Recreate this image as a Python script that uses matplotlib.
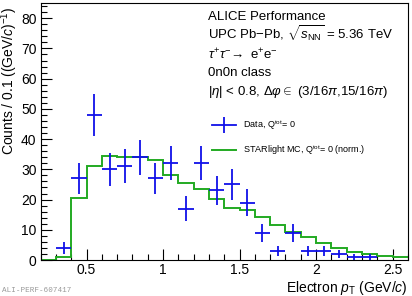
import numpy as np
import matplotlib
matplotlib.use("Agg")
import matplotlib.pyplot as plt
from matplotlib.ticker import MultipleLocator
from matplotlib.lines import Line2D

plt.rcParams['font.family'] = ['Liberation Sans', 'DejaVu Sans']
plt.rcParams['mathtext.fontset'] = 'custom'
plt.rcParams['mathtext.rm'] = 'Liberation Sans'
plt.rcParams['mathtext.it'] = 'Liberation Sans:italic'
plt.rcParams['mathtext.bf'] = 'Liberation Sans:bold'

# data points (bin centres, counts)
data_pt = [0.35, 0.45, 0.55, 0.65, 0.75, 0.85, 0.95, 1.05, 1.15, 1.25, 1.35,
           1.45, 1.55, 1.65, 1.75, 1.85, 1.95, 2.05, 2.15, 2.25, 2.35]
data_counts = [4, 27, 48, 30, 31, 34, 27, 32, 17, 32, 23,
               25, 19, 9, 3, 9, 3, 3, 2, 1, 1]

# STARlight MC histogram (normalised)
mc_edges = [0.2, 0.3, 0.4, 0.5, 0.6, 0.7, 0.8, 0.9, 1.0, 1.1, 1.2, 1.3, 1.4,
            1.5, 1.6, 1.7, 1.8, 1.9, 2.0, 2.1, 2.2, 2.3, 2.4, 2.5, 2.6]
mc_counts = [0, 1.1, 20.4, 31.1, 34.3, 34.2, 34.0, 33.0, 28.1, 25.4, 23.4, 20.3,
             17.2, 16.4, 14.1, 11.6, 9.4, 7.5, 5.7, 3.9, 2.8, 2.0, 1.4, 0.9]

blue = '#1010e8'
green = '#22aa22'

fig = plt.figure(figsize=(4.12, 2.96), dpi=100)
ax = fig.add_axes([0.0988, 0.1216, 0.891, 0.868])

ax.stairs(mc_counts, mc_edges, color=green, linewidth=1.4, baseline=None, zorder=2)
yerr = np.sqrt(np.array(data_counts, dtype=float))
ax.errorbar(data_pt, data_counts, xerr=0.05, yerr=yerr, fmt='none',
            ecolor=blue, elinewidth=1.3, capsize=0, zorder=3)

ax.set_xlim(0.2, 2.6)
ax.set_ylim(0, 85)
ax.xaxis.set_major_locator(MultipleLocator(0.5))
ax.xaxis.set_minor_locator(MultipleLocator(0.1))
ax.yaxis.set_major_locator(MultipleLocator(10))
ax.yaxis.set_minor_locator(MultipleLocator(2))
ax.tick_params(which='both', direction='in', top=False, right=False,
               labelsize=10, width=0.8)
ax.tick_params(which='major', length=8, pad=3)
ax.tick_params(which='minor', length=4)
ax.tick_params(axis='x', which='major', pad=2)
ax.set_xticks([0.5, 1, 1.5, 2, 2.5])
ax.set_xticklabels(['0.5', '1', '1.5', '2', '2.5'])
for s in ax.spines.values():
    s.set_linewidth(0.8)

ax.set_ylabel(r'Counts / 0.1 ((GeV/$c$)$^{-1}$)', fontsize=10, loc='top')
ax.yaxis.set_label_coords(-0.056, 0.985)
ax.set_xlabel(r'Electron $p_{\rm T}$ (GeV/$c$)', fontsize=10, loc='right')
ax.xaxis.set_label_coords(1.0, -0.074)

lines = ['ALICE Performance',
         r'UPC Pb$-$Pb, $\sqrt{s_{\rm NN}}$ = 5.36 TeV',
         r'$\tau^{+}\tau^{-}\!\rightarrow$ e$^{+}$e$^{-}$',
         '0n0n class',
         r'$|\eta|$ < 0.8, $\Delta\varphi\in$ (3/16$\pi$,15/16$\pi$)']
ys = [17, 34, 55, 73, 92]
for txt, yp in zip(lines, ys):
    fig.text(208 / 412, 1 - yp / 296, txt, fontsize=9.5, va='center', ha='left')

h_data = Line2D([], [], color=blue, linewidth=1.3, marker='|',
                markersize=11, markeredgewidth=1.3)
h_mc = Line2D([], [], color=green, linewidth=1.4)
ax.legend([h_data, h_mc],
          [r'Data, Q$^{\rm tot}$= 0', r'STARlight MC, Q$^{\rm tot}$= 0 (norm.)'],
          loc='upper left', bbox_to_anchor=(0.466, 0.55), frameon=False,
          fontsize=6.5, numpoints=1, borderpad=0, borderaxespad=0,
          handlelength=2.7, handletextpad=0.8, labelspacing=1.25)

fig.text(2 / 412, 1 - 291 / 296, 'ALI-PERF-607417', fontsize=5.5,
         family='Liberation Mono', color='#999999', va='center', ha='left')

fig.savefig('out.png', dpi=100)
